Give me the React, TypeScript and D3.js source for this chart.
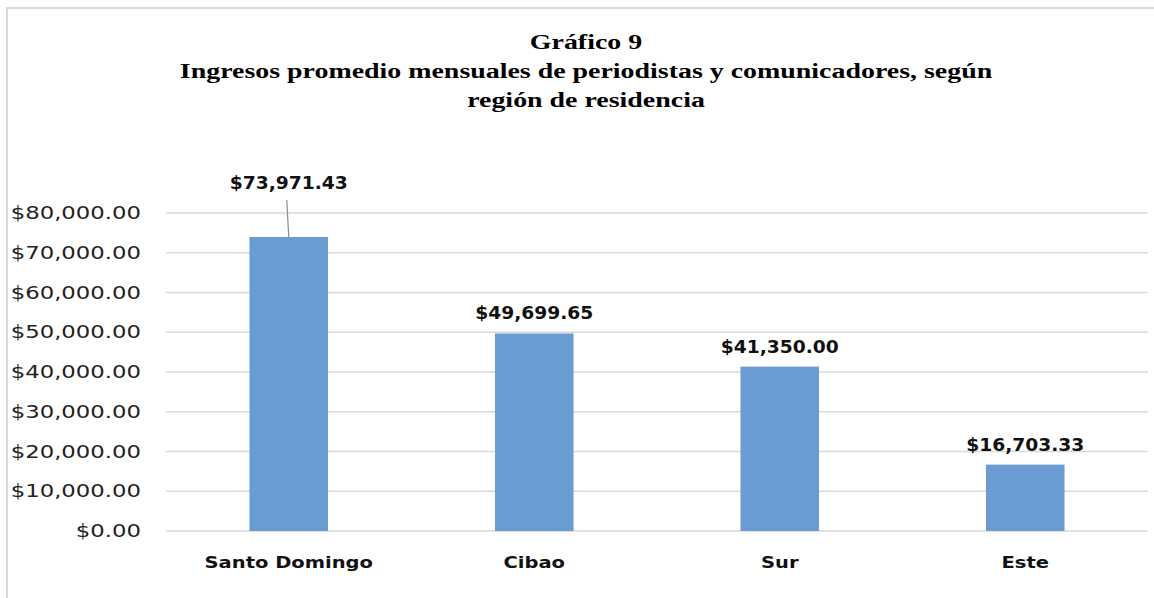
import React from "react";
import * as d3 from "d3";

const regions = ["Santo Domingo", "Cibao", "Sur", "Este"];
const incomes = [73971.43, 49699.65, 41350.0, 16703.33];
const yTicks = [0, 10000, 20000, 30000, 40000, 50000, 60000, 70000, 80000];
const titleLines = [
  "Gráfico 9",
  "Ingresos promedio mensuales de periodistas y comunicadores, según",
  "región de residencia",
];

const width = 1154;
const height = 598;
const marginLeft = 166;
const marginRight = 6;
const plotTop = 213;
const plotBottom = 531;

const money = (v: number) => "$" + d3.format(",.2f")(v);

// the source picture is stretched sideways, so text gets a horizontal scale
const Stretched = ({ x, y, sx, children, ...rest }: any) => (
  <text transform={`translate(${x},${y}) scale(${sx},1)`} {...rest}>
    {children}
  </text>
);

export default function App() {
  const x = d3
    .scaleBand()
    .domain(regions)
    .range([marginLeft, width - marginRight])
    .paddingInner(0.68)
    .paddingOuter(0.34);

  const y = d3.scaleLinear().domain([0, 80000]).range([plotBottom, plotTop]);

  const sans = "'DejaVu Sans', Verdana, sans-serif";
  const cx = (r: string) => x(r)! + x.bandwidth() / 2;

  return (
    <svg
      width={width}
      height={height}
      viewBox={`0 0 ${width} ${height}`}
      style={{ position: "absolute", left: 0, top: 0, background: "#fff" }}
    >
      {/* chart frame */}
      <rect x={7} y={8} width={width} height={height} fill="#fff" stroke="#d9d9d9" strokeWidth={2} />

      {/* title */}
      <g fontFamily="'Liberation Serif', 'Times New Roman', serif" fontWeight="bold" fontSize={21} textAnchor="middle" fill="#000">
        {titleLines.map((t, i) => (
          <Stretched key={i} x={586} y={49 + i * 29} sx={1.33}>
            {t}
          </Stretched>
        ))}
      </g>

      {/* gridlines */}
      <g>
        {yTicks.map((t) => (
          <line key={t} x1={marginLeft} x2={width - marginRight} y1={y(t)} y2={y(t)} stroke="#d9d9d9" strokeWidth={1.5} />
        ))}
      </g>

      {/* y labels */}
      <g fontFamily={sans} fontSize={17} textAnchor="end" fill="#222">
        {yTicks.map((t) => (
          <Stretched key={t} x={141} y={y(t)} sx={1.34} dy="0.36em">
            {money(t)}
          </Stretched>
        ))}
      </g>

      {/* bars */}
      <g>
        {regions.map((r, i) => (
          <rect key={r} x={x(r)} y={y(incomes[i])} width={x.bandwidth()} height={y(0) - y(incomes[i])} fill="#6a9bd2" />
        ))}
      </g>

      {/* leader line for first label */}
      <line
        x1={cx(regions[0]) - 2}
        x2={cx(regions[0])}
        y1={200}
        y2={y(incomes[0])}
        stroke="#8c8c8c"
        strokeWidth={1.2}
      />

      {/* value labels */}
      <g fontFamily={sans} fontWeight="bold" fontSize={17} textAnchor="middle" fill="#111">
        {regions.map((r, i) => (
          <Stretched key={r} x={cx(r)} y={i === 0 ? 189 : y(incomes[i]) - 14} sx={1.1}>
            {money(incomes[i])}
          </Stretched>
        ))}
      </g>

      {/* category labels */}
      <g fontFamily={sans} fontWeight="bold" fontSize={16} textAnchor="middle" fill="#111">
        {regions.map((r) => (
          <Stretched key={r} x={cx(r)} y={568} sx={1.22}>
            {r}
          </Stretched>
        ))}
      </g>
    </svg>
  );
}
